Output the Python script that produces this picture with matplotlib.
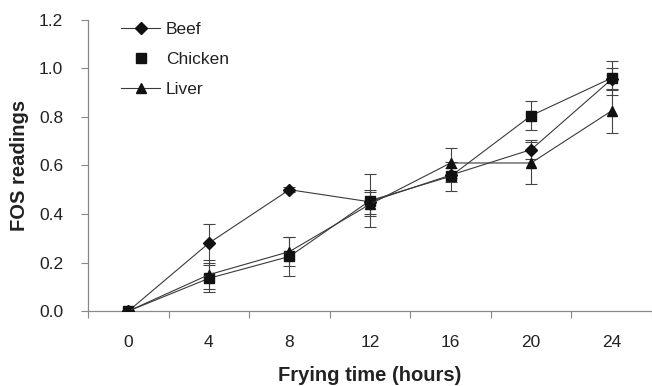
import matplotlib.pyplot as plt
from matplotlib.lines import Line2D
import numpy as np

plt.rcParams['font.family'] = ['Liberation Sans', 'DejaVu Sans']

hours = ["0", "4", "8", "12", "16", "20", "24"]
beef = [0.0, 0.28, 0.50, 0.45, 0.56, 0.665, 0.955]
chicken = [0.0, 0.135, 0.225, 0.455, 0.555, 0.805, 0.96]
liver = [0.0, 0.15, 0.245, 0.44, 0.61, 0.61, 0.825]
beef_err = [0.0, 0.08, 0.01, 0.05, 0.03, 0.04, 0.045]
chicken_err = [0.0, 0.055, 0.08, 0.11, 0.06, 0.06, 0.07]
liver_err = [0.0, 0.06, 0.06, 0.05, 0.06, 0.085, 0.09]

fig = plt.figure(figsize=(6.52, 3.86), dpi=100)
ax = fig.add_axes([0.135, 0.194, 0.865, 0.755])

x = np.arange(len(hours))
line_col = '#3a3a3a'
series = [
    ("Beef", beef, beef_err, 'D', 6),
    ("Chicken", chicken, chicken_err, 's', 6.5),
    ("Liver", liver, liver_err, '^', 7.5),
]
for name, vals, err, mk, ms in series:
    ax.errorbar(x, vals, yerr=err, color=line_col, lw=0.8, marker=mk, ms=ms,
                mfc='#111111', mec='#111111', ecolor='#444444', elinewidth=0.8,
                capsize=4, capthick=0.8, zorder=3)

ax.set_xlim(-0.5, 6.5)
ax.set_ylim(0, 1.2)
ax.set_yticks(np.arange(0, 1.21, 0.2))
ax.set_yticklabels([f"{v:.1f}" for v in np.arange(0, 1.21, 0.2)])

# category-style x axis: ticks between groups, labels centred
ax.set_xticks(np.arange(-0.5, 6.6, 1.0))
ax.set_xticklabels([])
ax.set_xticks(x, minor=True)
ax.set_xticklabels(hours, minor=True)
ax.tick_params(axis='x', which='minor', length=0, pad=17)
ax.tick_params(axis='x', which='major', length=5, width=0.8, color='#888888')
ax.tick_params(axis='y', length=5, width=0.8, color='#888888', pad=13)
ax.tick_params(which='both', labelsize=12.5, labelcolor='#222222')

for s in ['top', 'right']:
    ax.spines[s].set_visible(False)
for s in ['left', 'bottom']:
    ax.spines[s].set_color('#888888')
    ax.spines[s].set_linewidth(0.9)

ax.set_xlabel("Frying time (hours)", fontsize=14.5, fontweight='bold', color='#222222', labelpad=12)
ax.set_ylabel("FOS readings", fontsize=14.5, fontweight='bold', color='#222222', labelpad=7)

handles = [
    Line2D([], [], color=line_col, lw=0.8, marker='D', ms=6, mfc='#111111', mec='#111111'),
    Line2D([], [], color=line_col, lw=0, marker='s', ms=6.5, mfc='#111111', mec='#111111'),
    Line2D([], [], color=line_col, lw=0.8, marker='^', ms=7.5, mfc='#111111', mec='#111111'),
]
ax.legend(handles, [s[0] for s in series], loc='upper left', bbox_to_anchor=(0.03, 1.045),
          frameon=False, fontsize=12.5, handlelength=2.3, labelspacing=0.85,
          handletextpad=0.3, labelcolor='#222222')

fig.savefig("out.png", dpi=100)
